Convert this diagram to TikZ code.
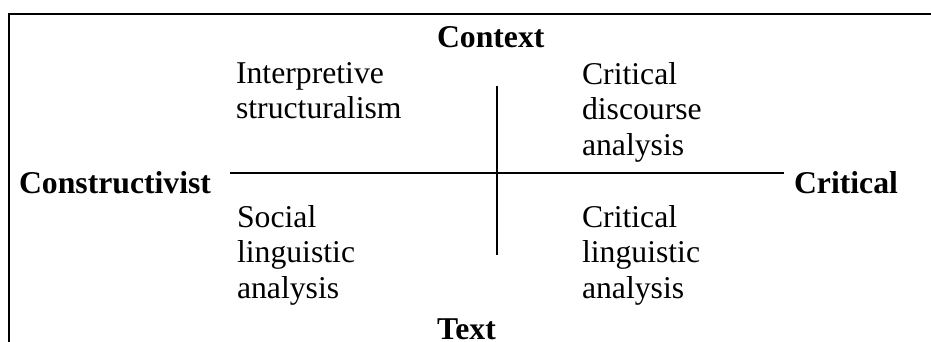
\documentclass[tikz,border=0pt]{standalone}
\usepackage{fontspec}
\setmainfont{Liberation Serif}
\usepackage{xcolor}

\begin{document}
\begin{tikzpicture}[x=0.3785pt,y=-0.3785pt,thick,
                    quad text/.style={inner sep=0pt,anchor=north west,align=left,font=\fontsize{12}{13.6}\selectfont},
                    pole/.style={inner sep=0pt,anchor=north west,font=\fontsize{12}{13.6}\selectfont\bfseries},
                    axis/.style={line width=0.5pt}]
                    \useasboundingbox (0,0) rectangle (931,342);
                    % frame, cut off at the right and at the bottom
                    \draw[line width=0.76pt] (931,14) -- (9,14) -- (9,342);

                    \node[pole] (context) at (436,25) {Context};
                    \node[pole] (text) at (436,318) {Text};
                    \node[pole] (constr) at (18,170) {Constructivist};
                    \node[pole] (critical) at (793,170) {Critical};

                    \node[quad text] (interp) at (235,61) {Interpretive\\structuralism};
                    \node[quad text] (cda) at (581,61) {Critical\\discourse\\analysis};
                    \node[quad text] (social) at (236,204) {Social\\linguistic\\analysis};
                    \node[quad text] (cla) at (581,204) {Critical\\linguistic\\analysis};

                    \coordinate (top) at (497,86);
                    \coordinate (bottom) at (497,255);
                    \coordinate (left) at (230,173);
                    \coordinate (right) at (784,173);

                    \draw[axis] (left) -- (right);
                    \draw[axis] (top) -- (bottom);
                \end{tikzpicture}
\end{document}
